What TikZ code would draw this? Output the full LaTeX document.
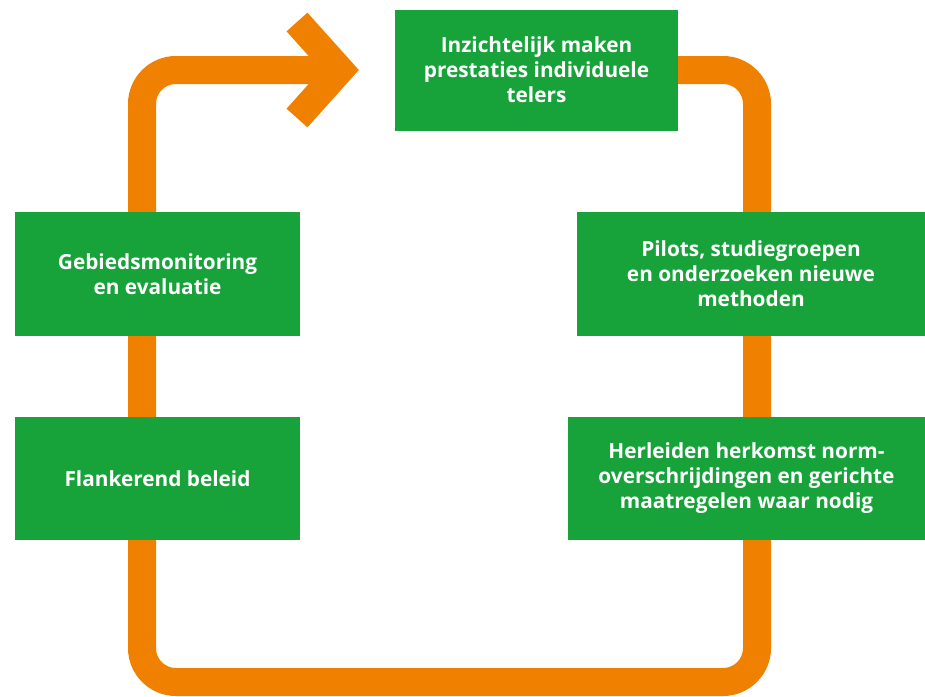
\documentclass[tikz,border=0pt]{standalone}
\usepackage{fontspec}
\setsansfont{Open Sans}
\usetikzlibrary{backgrounds}
\definecolor{boxgreen}{RGB}{23,162,58}
\definecolor{looporange}{RGB}{240,128,0}
\tikzset{
  greenbox/.style={rectangle, fill=boxgreen, draw=none, inner sep=0pt, align=center,
    text=white, font=\sffamily\bfseries\fontsize{20.8}{25}\selectfont},
  loopline/.style={draw=looporange, line width=28pt, rounded corners=34pt},
  chevron/.style={draw=looporange, line width=28pt, line join=miter}
}
\begin{document}
\begin{tikzpicture}[x=1pt,y=-1pt]
\useasboundingbox (0,0) rectangle (925,696);
\node[greenbox, minimum width=283pt, minimum height=121pt] (top) at (536.5,70)
  {Inzichtelijk maken\\prestaties individuele\\telers};
\node[greenbox, minimum width=285pt, minimum height=124pt] (lb1) at (157.5,274)
  {Gebiedsmonitoring\\en evaluatie};
\node[greenbox, minimum width=285pt, minimum height=123pt] (lb2) at (157.5,478.5)
  {Flankerend beleid};
\node[greenbox, minimum width=348pt, minimum height=124pt] (rb1) at (751,274)
  {Pilots, studiegroepen\\en onderzoeken nieuwe\\methoden};
\node[greenbox, minimum width=357pt, minimum height=123pt] (rb2) at (746.5,478.5)
  {Herleiden herkomst norm-\\overschrijdingen en gerichte\\maatregelen waar nodig};
\coordinate (c1) at (757,70);
\coordinate (c2) at (757,682);
\coordinate (c3) at (142,682);
\coordinate (c4) at (142,70);
\coordinate (aend) at (340,70);
\coordinate (aup) at (297,22);
\coordinate (adown) at (297,118);
\begin{pgfonlayer}{background}
\path[loopline] (top.east) -- (c1) -- (c2) -- (c3) -- (c4) -- (aend);
\path[chevron] (aup) -- (aend) -- (adown);
\end{pgfonlayer}
\end{tikzpicture}
\end{document}
